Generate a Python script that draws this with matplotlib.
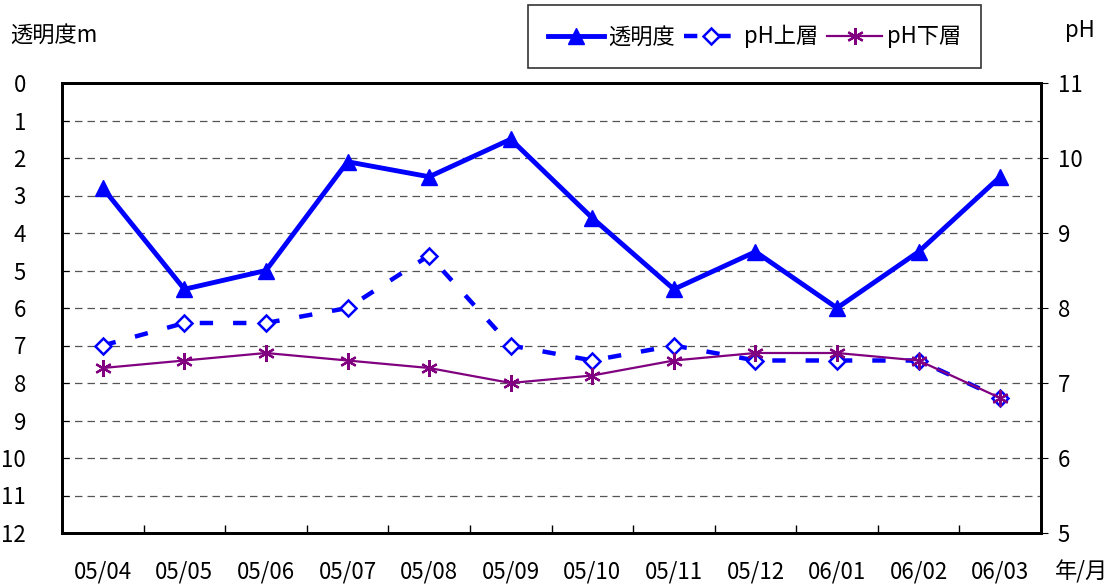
import numpy as np
import matplotlib.pyplot as plt
from matplotlib.ticker import FixedLocator

plt.rcParams['font.family'] = ['Noto Sans CJK JP', 'DejaVu Sans']

# 年/月 ごとの観測値
months = ['05/04', '05/05', '05/06', '05/07', '05/08', '05/09',
          '05/10', '05/11', '05/12', '06/01', '06/02', '06/03']
transparency = [2.8, 5.5, 5.0, 2.1, 2.5, 1.5, 3.6, 5.5, 4.5, 6.0, 4.5, 2.5]
ph_upper = [7.5, 7.8, 7.8, 8.0, 8.7, 7.5, 7.3, 7.5, 7.3, 7.3, 7.3, 6.8]
ph_lower = [7.2, 7.3, 7.4, 7.3, 7.2, 7.0, 7.1, 7.3, 7.4, 7.4, 7.3, 6.8]

x = np.arange(len(months))
fs = 16

fig = plt.figure(figsize=(11.14, 5.87), dpi=100)
ax = fig.add_axes([62 / 1114, 54 / 587, 979 / 1114, 450 / 587])
ax2 = ax.twinx()

# 透明度 (左軸, 上下反転)
l1, = ax.plot(x, transparency, color='#0000FF', lw=3.5, marker='^',
              ms=12, mfc='#0000FF', mec='#0000FF', label='透明度', zorder=5)
ax.set_ylim(12, 0)
ax.set_xlim(-0.5, len(months) - 0.5)
ax.set_yticks(range(0, 13))
ax.yaxis.grid(True, linestyle=(0, (6, 4)), color='#555555', lw=0.9)
ax.set_axisbelow(True)

# pH (右軸)
l2, = ax2.plot(x, ph_upper, color='#0000FF', lw=3.2, linestyle=(0, (3, 4.5)),
               marker='D', ms=8, mfc='white', mec='#0000FF', mew=1.8,
               label='pH上層', zorder=3)
l3, = ax2.plot(x, ph_lower, color='#800080', lw=1.6, marker=(6, 2, 0),
               ms=12, mec='#800080', mew=1.6, label='pH下層', zorder=4)
ax2.set_ylim(5, 11)
ax2.set_yticks(range(5, 12))

ax.set_xticks(x)
ax.set_xticklabels(months)
ax.xaxis.set_minor_locator(FixedLocator(np.arange(0.5, len(months) - 0.5, 1)))
ax.tick_params(axis='x', which='major', length=0, pad=20, labelsize=fs)
ax.tick_params(axis='x', which='minor', direction='in', length=6, width=1)
ax.tick_params(axis='y', direction='in', length=5, pad=26, labelsize=fs)
ax2.tick_params(axis='y', direction='out', length=5, pad=7, labelsize=fs)

for a in (ax, ax2):
    for s in a.spines.values():
        s.set_linewidth(2)
        s.set_color('black')
    a.set_zorder(1)
ax2.set_zorder(2)
ax2.patch.set_visible(False)

fig.text(10 / 1114, 1 - 35 / 587, '透明度m', fontsize=fs, va='center', ha='left')
fig.text(1080 / 1114, 1 - 30 / 587, 'pH', fontsize=fs, va='center', ha='center')
fig.text(1082 / 1114, 1 - 572 / 587, '年/月', fontsize=fs, va='center', ha='center')

leg = fig.legend(handles=[l1, l2, l3], ncol=3, loc='upper left',
                 bbox_to_anchor=(528 / 1114, 1 - 5 / 587), fontsize=fs,
                 frameon=True, fancybox=False, edgecolor='black',
                 handlelength=2.5, handletextpad=0.2, columnspacing=0.4,
                 borderpad=0.9, borderaxespad=0)
leg.get_frame().set_linewidth(1.2)

fig.savefig('out.png', dpi=100)
